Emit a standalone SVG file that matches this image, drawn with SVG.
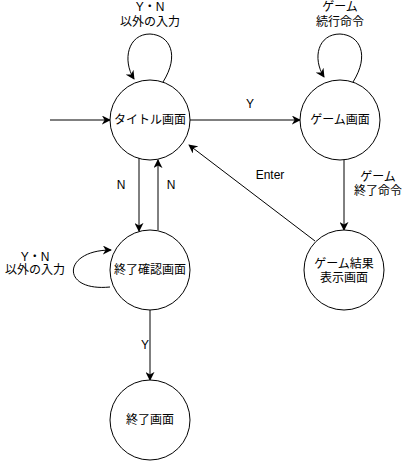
<svg xmlns="http://www.w3.org/2000/svg" width="414" height="461" viewBox="0 0 414 461">
<style>
.n{fill:#fff;stroke:#000;stroke-width:1}
.e{fill:none;stroke:#000;stroke-width:1}
text{font-family:"Liberation Sans","Noto Sans CJK JP",sans-serif;font-size:12px;fill:#000;text-anchor:middle;dominant-baseline:central}
</style>
<defs>
<marker id="a" viewBox="0 0 10 10" refX="9" refY="5" markerWidth="9" markerHeight="9" markerUnits="userSpaceOnUse" orient="auto">
<path d="M0,0 L10,5 L0,10 L3,5 Z" fill="#000"/>
</marker>
</defs>
<rect width="414" height="461" fill="#fff"/>
<g id="connectors">
<path class="e" d="M50,120 L110,120" marker-end="url(#a)"/>
<path class="e" d="M190,120 L300,120" marker-end="url(#a)"/>
<text x="250" y="104">Y</text>
<path class="e" d="M163,82 C180,55 170,35 150,34 C128,34 122,60 134,79" marker-end="url(#a)"/>
<text x="150" y="7">Y・N</text>
<text x="150" y="22">以外の入力</text>
<path class="e" d="M353,82 C370,55 360,35 340,34 C318,34 312,58 324,77" marker-end="url(#a)"/>
<text x="340" y="7">ゲーム</text>
<text x="340" y="22">続行命令</text>
<path class="e" d="M139,158 L139,231" marker-end="url(#a)"/>
<path class="e" d="M158,230 L158,160" marker-end="url(#a)"/>
<text x="121" y="185">N</text>
<text x="171" y="185">N</text>
<path class="e" d="M110,287 C60,292 62,250 111,250" marker-end="url(#a)"/>
<text x="35" y="257">Y・N</text>
<text x="35" y="270">以外の入力</text>
<path class="e" d="M150,310 L150,380" marker-end="url(#a)"/>
<text x="145" y="345">Y</text>
<path class="e" d="M344,160 L344,230" marker-end="url(#a)"/>
<text x="378" y="177">ゲーム</text>
<text x="378" y="191">終了命令</text>
<path class="e" d="M315,241 L189,145" marker-end="url(#a)"/>
<text x="270" y="175">Enter</text>
</g>
<g id="title"><circle class="n" cx="150" cy="120" r="40"/><text x="150" y="120">タイトル画面</text></g>
<g id="game"><circle class="n" cx="340" cy="120" r="40"/><text x="340" y="120">ゲーム画面</text></g>
<g id="confirm"><circle class="n" cx="150" cy="270" r="40"/><text x="150" y="270">終了確認画面</text></g>
<g id="result"><circle class="n" cx="344" cy="270" r="40"/><text x="344" y="264">ゲーム結果</text><text x="344" y="278">表示画面</text></g>
<g id="end"><circle class="n" cx="150" cy="420" r="40"/><text x="150" y="420">終了画面</text></g>
</svg>
